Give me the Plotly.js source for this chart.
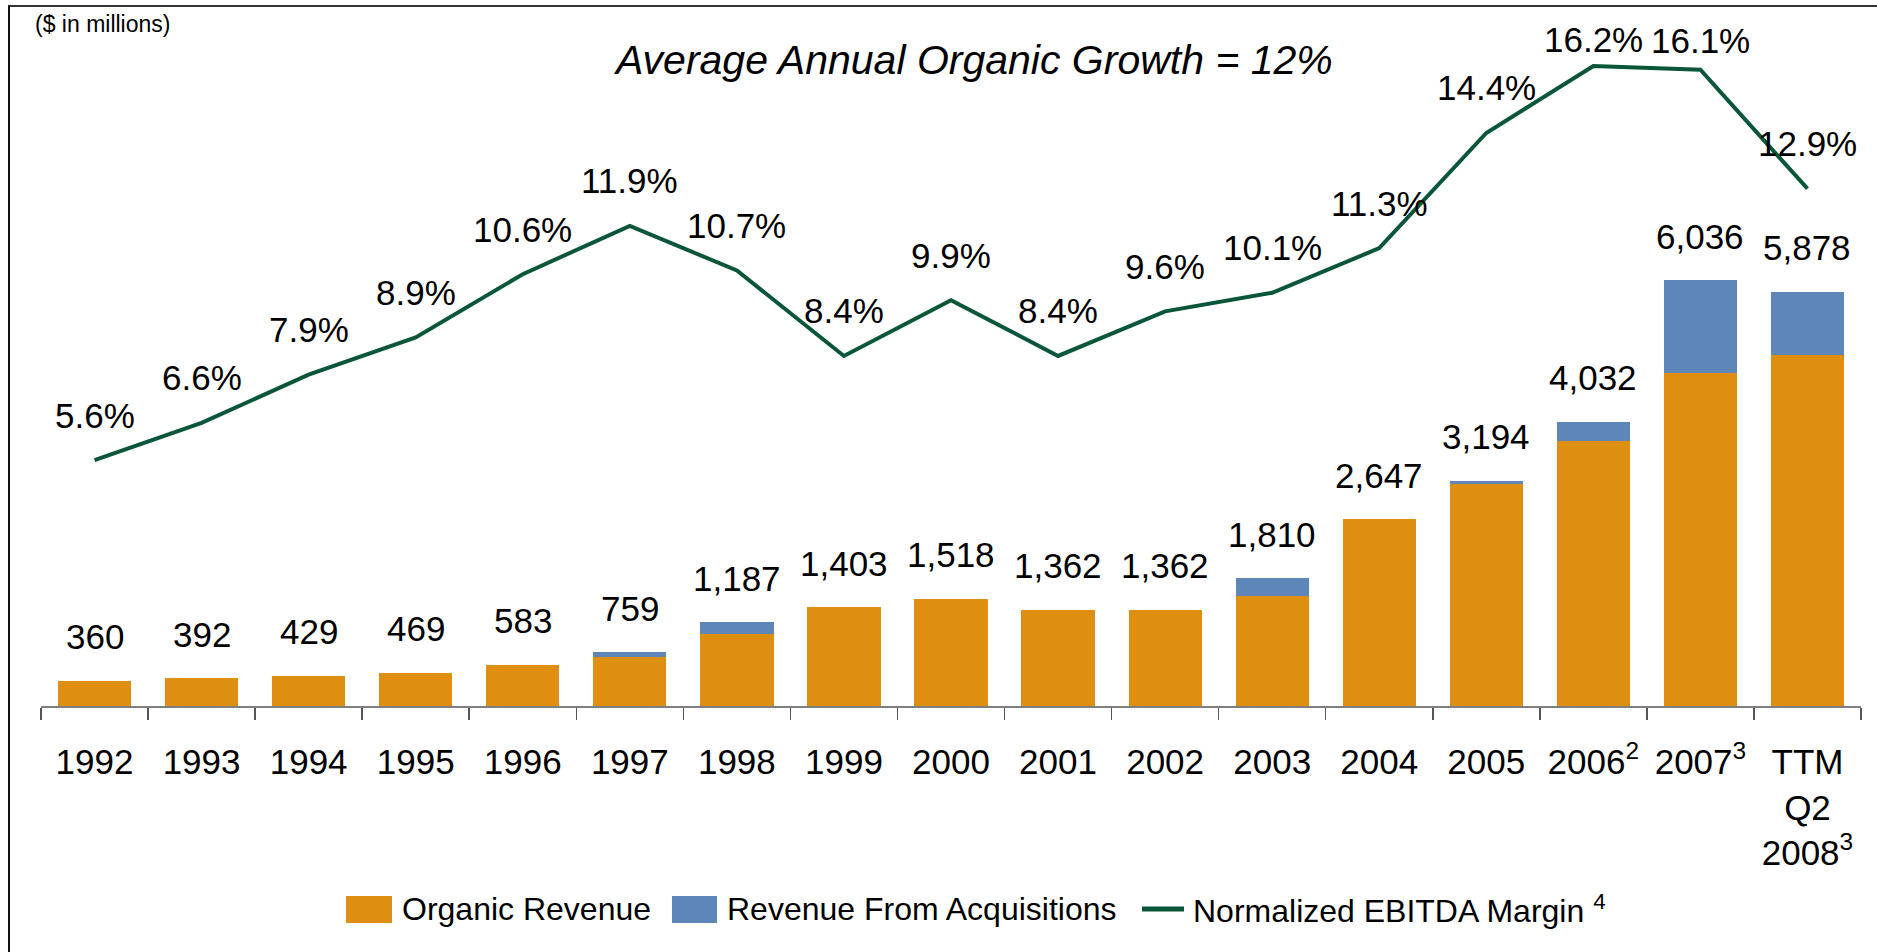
<!DOCTYPE html>
<html>
<head>
<meta charset="utf-8">
<script src="https://cdn.plot.ly/plotly-3.0.1.min.js"></script>
<style>
  html, body { margin: 0; padding: 0; background: #fff; }
  #wrap { position: relative; width: 1877px; height: 952px; }
  #chart { position: absolute; left: 0; top: 0; width: 1877px; height: 952px; }
  #frame { position: absolute; left: 8px; top: 5px; right: 0; bottom: 0;
           border-left: 2px solid #111; border-top: 2px solid #333; pointer-events: none; }
</style>
</head>
<body>
<div id="wrap"><div id="chart"></div><div id="frame"></div></div>
<script>
// ---- data ----
const categories = ['1992','1993','1994','1995','1996','1997','1998','1999','2000','2001','2002','2003','2004','2005','2006<sup>2</sup>','2007<sup>3</sup>','TTM<br>Q2<br>2008<sup>3</sup>'];
const organicRevenue = [360, 392, 429, 469, 583, 689, 1020, 1403, 1518, 1362, 1362, 1556, 2647, 3150, 3756, 4720, 4974];
const acquisitionRevenue = [0, 0, 0, 0, 0, 70, 167, 0, 0, 0, 0, 254, 0, 44, 276, 1316, 904];
const totalLabels = ['360','392','429','469','583','759','1,187','1,403','1,518','1,362','1,362','1,810','2,647','3,194','4,032','6,036','5,878'];
const ebitdaMargin = [5.6, 6.6, 7.9, 8.9, 10.6, 11.9, 10.7, 8.4, 9.9, 8.4, 9.6, 10.1, 11.3, 14.4, 16.2, 16.1, 12.9];
const seriesNames = ['Organic Revenue', 'Revenue From Acquisitions', 'Normalized EBITDA Margin <sup>4</sup>'];
const titleText = '<i>Average Annual Organic Growth = 12%</i>';
const unitsText = '($ in millions)';

// ---- styling ----
const FONT = 'Liberation Sans, Arial, sans-serif';
const cOrange = '#DE8E10', cBlue = '#5E86B8', cGreen = '#0A5638';
const W = 1877, H = 952;
const M = {l: 41, r: 16, t: 20, b: 246};
const plotH = H - M.t - M.b;
const yRange = [0, 9730];
const y2Range = [-1.017, 17.439];

const totals = organicRevenue.map((v, i) => v + acquisitionRevenue[i]);

const traces = [
  {type: 'bar', name: seriesNames[0], x: categories, y: organicRevenue,
   marker: {color: cOrange}, showlegend: false, hoverinfo: 'y'},
  {type: 'bar', name: seriesNames[1], x: categories, y: acquisitionRevenue,
   marker: {color: cBlue}, showlegend: false, hoverinfo: 'y'},
  {type: 'scatter', mode: 'lines', name: seriesNames[2], x: categories, y: ebitdaMargin,
   yaxis: 'y2', line: {color: cGreen, width: 4}, showlegend: false, hoverinfo: 'y'}
];

const annotations = [];
categories.forEach((c, i) => {
  annotations.push({x: i, y: totals[i], xref: 'x', yref: 'y', text: totalLabels[i],
    showarrow: false, yanchor: 'middle', yshift: 44, font: {family: FONT, size: 35, color: '#000'}});
  const pix = M.t + (y2Range[1] - ebitdaMargin[i]) / (y2Range[1] - y2Range[0]) * plotH;
  const shift = Math.min(45, pix - 40);
  annotations.push({x: i, y: ebitdaMargin[i], xref: 'x', yref: 'y2', text: ebitdaMargin[i].toFixed(1) + '%',
    showarrow: false, yanchor: 'middle', yshift: shift, font: {family: FONT, size: 35, color: '#000'}});
});
// title + units
const px = (x) => (x - M.l) / (W - M.l - M.r);
const py = (y) => 1 - (y - M.t) / plotH;
annotations.push({xref: 'paper', yref: 'paper', x: px(973), y: py(60), text: titleText, showarrow: false,
  xanchor: 'center', yanchor: 'middle', font: {family: FONT, size: 41, color: '#000'}});
annotations.push({xref: 'paper', yref: 'paper', x: px(33), y: py(24), text: unitsText, showarrow: false,
  xanchor: 'left', yanchor: 'middle', font: {family: FONT, size: 23, color: '#000'}});

// custom legend
const legY = 909;
const shapes = [
  {type: 'rect', xref: 'paper', yref: 'paper', x0: px(346), x1: px(392), y0: py(896), y1: py(923), fillcolor: cOrange, line: {width: 0}},
  {type: 'rect', xref: 'paper', yref: 'paper', x0: px(672), x1: px(717), y0: py(896), y1: py(923), fillcolor: cBlue, line: {width: 0}},
  {type: 'line', xref: 'paper', yref: 'paper', x0: px(1142), x1: px(1184), y0: py(legY), y1: py(legY), line: {color: cGreen, width: 5}}
];
[[400, seriesNames[0]], [725, seriesNames[1]], [1191, seriesNames[2]]].forEach(([x, t]) => {
  annotations.push({xref: 'paper', yref: 'paper', x: px(x), y: py(legY), text: t, showarrow: false,
    xanchor: 'left', yanchor: 'middle', font: {family: FONT, size: 32, color: '#000'}});
});

const layout = {
  width: W, height: H,
  margin: M,
  paper_bgcolor: '#fff', plot_bgcolor: 'rgba(0,0,0,0)',
  barmode: 'stack', bargap: 0.316,
  showlegend: false,
  font: {family: FONT, color: '#000'},
  xaxis: {type: 'category', range: [-0.5, categories.length - 0.5], tickson: 'boundaries', ticks: 'outside', ticklen: 12, tickcolor: '#555', tickwidth: 1.5,
    showline: true, linecolor: '#7f7f7f', linewidth: 2, showgrid: false, zeroline: false, tickangle: 0,
    tickfont: {family: FONT, size: 35, color: '#000'}, ticklabelstandoff: 24, automargin: false},
  yaxis: {range: yRange, visible: false, showgrid: false, zeroline: false, fixedrange: true},
  yaxis2: {range: y2Range, overlaying: 'y', side: 'right', visible: false, showgrid: false, zeroline: false},
  annotations: annotations,
  shapes: shapes
};

Plotly.newPlot('chart', traces, layout, {displayModeBar: false, staticPlot: true});
</script>
</body>
</html>
